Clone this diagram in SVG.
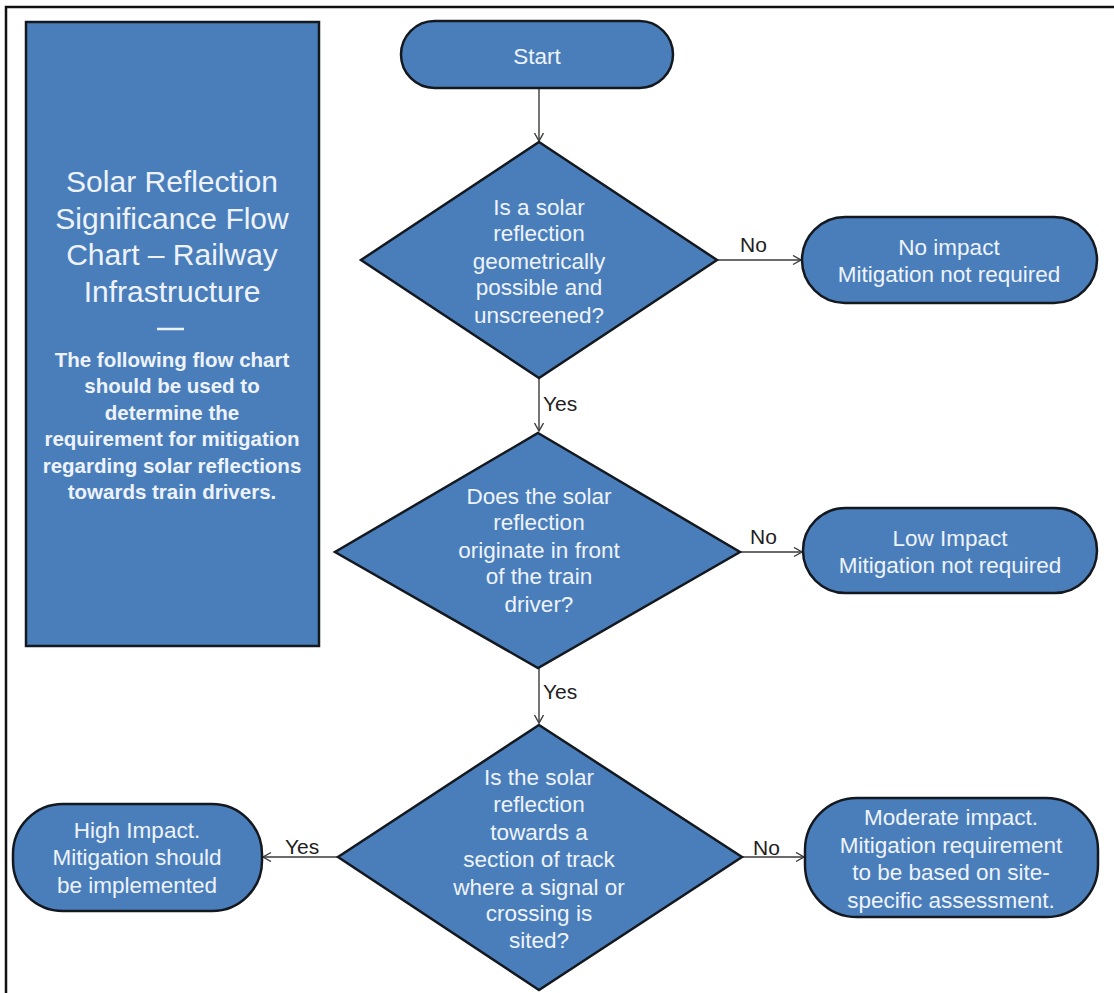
<svg xmlns="http://www.w3.org/2000/svg" width="1114" height="993" viewBox="0 0 1114 993">
<style>
.shape{fill:#4a7ebb;stroke:#14181f;stroke-width:2.5}
.nt{font-family:"Liberation Sans",Arial,sans-serif;font-size:22.5px;fill:#eef3fb;text-anchor:middle}
.lbl{font-family:"Liberation Sans",Arial,sans-serif;font-size:21px;fill:#1e1e1e}
.conn{stroke:#3a3a3a;stroke-width:1.4;fill:none}
.title{font-family:"Liberation Sans",Arial,sans-serif;font-size:30px;fill:#eef3fb;text-anchor:middle}
.body{font-family:"Liberation Sans",Arial,sans-serif;font-size:20.5px;font-weight:bold;fill:#eef3fb;text-anchor:middle}
</style>
<defs>
<marker id="arr" markerUnits="userSpaceOnUse" markerWidth="12" markerHeight="12" refX="9" refY="5" orient="auto">
<path d="M1,0.5 L9,5 L1,9.5" fill="none" stroke="#3a3a3a" stroke-width="1.4"/>
</marker>
</defs>
<rect width="1114" height="993" fill="#ffffff"/>
<g id="frame">
<path d="M6,993 L6,7 L1114,7" fill="none" stroke="#111" stroke-width="2.5"/>
</g>
<g id="info">
<rect x="26" y="22" width="293" height="624" class="shape"/>
<text class="title" x="172" y="192">Solar Reflection</text>
<text class="title" x="172" y="229">Significance Flow</text>
<text class="title" x="172" y="265">Chart – Railway</text>
<text class="title" x="172" y="302">Infrastructure</text>
<line x1="157" y1="329" x2="184" y2="329" stroke="#eef3fb" stroke-width="2.5"/>
<text class="body" x="172" y="367">The following flow chart</text>
<text class="body" x="172" y="393">should be used to</text>
<text class="body" x="172" y="420">determine the</text>
<text class="body" x="172" y="446">requirement for mitigation</text>
<text class="body" x="172" y="473">regarding solar reflections</text>
<text class="body" x="172" y="499">towards train drivers.</text>
</g>
<g id="connectors">
<line class="conn" x1="539" y1="88" x2="539" y2="141" marker-end="url(#arr)"/>
<line class="conn" x1="717" y1="260" x2="801" y2="260" marker-end="url(#arr)"/>
<text class="lbl" x="740" y="252">No</text>
<line class="conn" x1="539" y1="378" x2="539" y2="431" marker-end="url(#arr)"/>
<text class="lbl" x="543" y="411">Yes</text>
<line class="conn" x1="740" y1="552" x2="802" y2="552" marker-end="url(#arr)"/>
<text class="lbl" x="750" y="544">No</text>
<line class="conn" x1="539" y1="668" x2="539" y2="723" marker-end="url(#arr)"/>
<text class="lbl" x="543" y="699">Yes</text>
<line class="conn" x1="742" y1="857" x2="804" y2="857" marker-end="url(#arr)"/>
<text class="lbl" x="753" y="855">No</text>
<line class="conn" x1="337" y1="857" x2="263" y2="857" marker-end="url(#arr)"/>
<text class="lbl" x="285" y="854">Yes</text>
</g>
<g id="start">
<rect x="401" y="21" width="272" height="67" rx="33.5" class="shape"/>
<text class="nt" x="537" y="64">Start</text>
</g>
<g id="d1">
<polygon points="539,142 717,260 539,378 361,260" class="shape"/>
<text class="nt" x="539" y="215">Is a solar</text>
<text class="nt" x="539" y="241">reflection</text>
<text class="nt" x="539" y="269">geometrically</text>
<text class="nt" x="539" y="295">possible and</text>
<text class="nt" x="539" y="323">unscreened?</text>
</g>
<g id="noimpact">
<rect x="802" y="217" width="295" height="86" rx="43" class="shape"/>
<text class="nt" x="949" y="255">No impact</text>
<text class="nt" x="949" y="282">Mitigation not required</text>
</g>
<g id="d2">
<polygon points="538,433 740,552 538,668 335,552" class="shape"/>
<text class="nt" x="539" y="504">Does the solar</text>
<text class="nt" x="539" y="530">reflection</text>
<text class="nt" x="539" y="558">originate in front</text>
<text class="nt" x="539" y="584">of the train</text>
<text class="nt" x="539" y="612">driver?</text>
</g>
<g id="lowimpact">
<rect x="803" y="508" width="294" height="85" rx="42.5" class="shape"/>
<text class="nt" x="950" y="546">Low Impact</text>
<text class="nt" x="950" y="573">Mitigation not required</text>
</g>
<g id="d3">
<polygon points="539,725 742,857 539,990 338,857" class="shape"/>
<text class="nt" x="539" y="785">Is the solar</text>
<text class="nt" x="539" y="812">reflection</text>
<text class="nt" x="539" y="840">towards a</text>
<text class="nt" x="539" y="867">section of track</text>
<text class="nt" x="539" y="895">where a signal or</text>
<text class="nt" x="539" y="921">crossing is</text>
<text class="nt" x="539" y="948">sited?</text>
</g>
<g id="highimpact">
<rect x="13" y="804" width="249" height="107" rx="50" class="shape"/>
<text class="nt" x="137" y="838">High Impact.</text>
<text class="nt" x="137" y="865">Mitigation should</text>
<text class="nt" x="137" y="893">be implemented</text>
</g>
<g id="moderate">
<rect x="805" y="798" width="293" height="119" rx="52" class="shape"/>
<text class="nt" x="951" y="825">Moderate impact.</text>
<text class="nt" x="951" y="853">Mitigation requirement</text>
<text class="nt" x="951" y="880">to be based on site-</text>
<text class="nt" x="951" y="908">specific assessment.</text>
</g>
</svg>
